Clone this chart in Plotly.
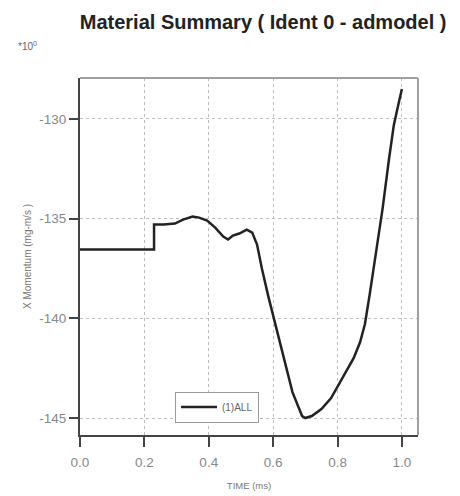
import plotly.graph_objects as go

# Time history of X momentum for the whole model (ident 0)
time_ms = [0.0, 0.23, 0.23, 0.26, 0.295, 0.32, 0.35, 0.37, 0.395, 0.42, 0.445, 0.46,
           0.475, 0.495, 0.518, 0.535, 0.55, 0.565, 0.585, 0.605, 0.63, 0.66, 0.69,
           0.70, 0.72, 0.75, 0.78, 0.80, 0.83, 0.85, 0.87, 0.885, 0.90, 0.92, 0.94,
           0.96, 0.975, 0.99, 1.0]
x_momentum = [-136.55, -136.55, -135.3, -135.3, -135.25, -135.05, -134.9, -134.95,
              -135.1, -135.45, -135.9, -136.05, -135.85, -135.75, -135.55, -135.7,
              -136.3, -137.5, -138.9, -140.2, -141.9, -143.7, -144.9, -145.0, -144.9,
              -144.55, -144.0, -143.45, -142.6, -142.0, -141.2, -140.3, -138.8, -136.6,
              -134.5, -132.0, -130.3, -129.2, -128.5]

x_ticks = [0.0, 0.2, 0.4, 0.6, 0.8, 1.0]
x_tick_text = ["0.0", "0.2", "0.4", "0.6", "0.8", "1.0"]
y_ticks = [-130, -135, -140, -145]
y_tick_text = ["-130", "-135", "-140", "-145"]
series_name = "(1)ALL"

fig = go.Figure()
fig.add_trace(go.Scatter(
    x=time_ms, y=x_momentum, mode="lines", name=series_name,
    line=dict(color="#222222", width=2.5),
))

font_family = "Liberation Sans, Arial, sans-serif"
axis_font = dict(family=font_family, size=13.5, color="#888888")
grid = dict(showgrid=True, gridcolor="#bcbcbc", griddash="dot", gridwidth=1, zeroline=False)

fig.update_layout(
    width=460, height=496,
    margin=dict(l=80, r=42, t=78, b=61, autoexpand=False),
    paper_bgcolor="white", plot_bgcolor="white",
    title=dict(text="<b>Material Summary ( Ident 0 - admodel )</b>",
               xref="container", x=0.572, xanchor="center",
               yref="container", y=0.956, yanchor="middle",
               font=dict(family=font_family, size=20, color="#222222")),
    showlegend=True,
    legend=dict(x=0.281, y=0.035, xanchor="left", yanchor="bottom",
                bgcolor="white", bordercolor="#999999", borderwidth=1,
                font=dict(family=font_family, size=10, color="#666666"),
                itemwidth=36, tracegroupgap=0),
    xaxis=dict(range=[0, 1.05], tickvals=x_ticks, ticktext=x_tick_text,
               ticks="outside", ticklen=10, tickwidth=2, tickcolor="#444444",
               ticklabelstandoff=4, automargin=False,
               showline=True, linecolor="#444444", linewidth=2,
               tickfont=axis_font,
               title=dict(text="TIME (ms)", standoff=13,
                          font=dict(family=font_family, size=9.5, color="#777777")),
               **grid),
    yaxis=dict(range=[-145.85, -127.95], tickvals=y_ticks, ticktext=y_tick_text,
               ticks="outside", ticklen=9, tickwidth=2, tickcolor="#444444",
               automargin=False,
               showline=True, linecolor="#444444", linewidth=2,
               tickfont=axis_font,
               title=dict(text="X Momentum (mg-m/s )", standoff=6,
                          font=dict(family=font_family, size=10, color="#777777")),
               **grid),
    shapes=[
        dict(type="line", xref="paper", yref="paper", x0=0, x1=1, y0=1, y1=1,
             line=dict(color="#a0a0a0", width=2)),
        dict(type="line", xref="paper", yref="paper", x0=1, x1=1, y0=0, y1=1,
             line=dict(color="#a0a0a0", width=2)),
    ],
    annotations=[
        dict(text="*10<sup>0</sup>", xref="paper", yref="paper", x=-0.19, y=1.09,
             xanchor="left", yanchor="middle", showarrow=False,
             font=dict(family=font_family, size=10, color="#666666")),
    ],
)

fig.write_html("out.html")
